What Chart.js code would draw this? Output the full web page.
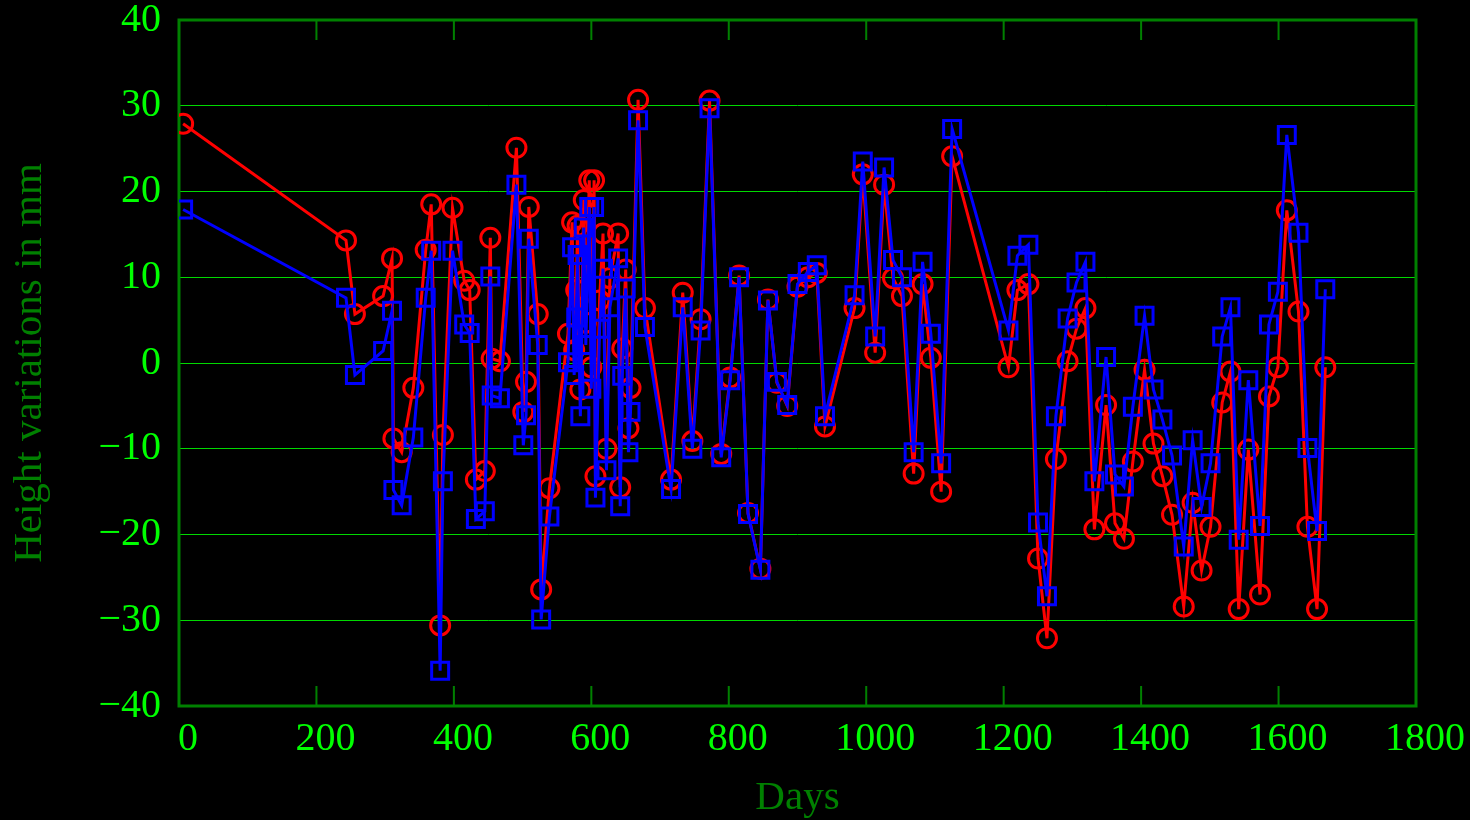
<!DOCTYPE html>
<html>
<head>
<meta charset="utf-8">
<title>Height variations</title>
<script src="https://cdn.jsdelivr.net/npm/chart.js@4.4.1/dist/chart.umd.min.js"></script>
<style>
  html, body { margin: 0; padding: 0; background: #000; }
  #wrap { width: 1470px; height: 820px; }
</style>
</head>
<body>
<div id="wrap"><canvas id="myChart" width="1470" height="820"></canvas></div>
<script>
// days of each measurement (shared by both series)
const days = [
  6, 243, 256, 297, 310, 312, 324, 341, 359, 367,
  380, 384, 398, 415, 423, 432, 445, 453, 455, 467,
  491, 501, 505, 509, 522, 527, 539, 566, 572, 575,
  578, 580, 584, 589, 592, 597, 600, 604, 606, 612,
  617, 622, 627, 639, 642, 645, 650, 654, 657, 668,
  678, 716, 733, 747, 759, 772, 789, 802, 815, 828,
  846, 857, 870, 885, 900, 915, 928, 940, 983, 995,
  1013, 1026, 1039, 1052, 1069, 1082, 1094, 1109, 1125, 1207,
  1220, 1236, 1250, 1263, 1276, 1293, 1306, 1319, 1332, 1349,
  1362, 1375, 1388, 1405, 1418, 1431, 1445, 1462, 1475, 1488,
  1501, 1518, 1530, 1542, 1556, 1573, 1586, 1599, 1612, 1629,
  1642, 1656, 1668
];

// red circles
const seriesA = [
  27.9, 14.3, 5.7, 7.8, 12.2, -8.8, -10.4, -2.9, 13.2, 18.5,
  -30.6, -8.4, 18.1, 9.6, 8.5, -13.6, -12.6, 14.6, 0.5, 0.2,
  25.1, -5.7, -2.2, 18.2, 5.7, -26.4, -14.6, 3.4, 16.4, 1.5,
  8.5, 16.0, -3.1, 19.0, 4.7, 21.3, -0.5, 21.3, -13.2, 7.3,
  15.1, -10.0, 9.9, 15.1, -14.5, 1.7, 10.9, -7.6, -2.9, 30.7,
  6.4, -13.6, 8.2, -9.1, 5.1, 30.6, -10.6, -1.7, 10.2, -17.5,
  -24.0, 7.4, -2.3, -5.0, 8.9, 10.0, 10.5, -7.4, 6.4, 22.0,
  1.2, 20.8, 9.9, 7.8, -12.9, 9.2, 0.6, -15.0, 24.1, -0.5,
  8.5, 9.2, -22.8, -32.1, -11.2, 0.2, 4.0, 6.4, -19.4, -4.9,
  -18.7, -20.5, -11.5, -0.8, -9.4, -13.2, -17.7, -28.4, -16.3, -24.2,
  -19.1, -4.6, -1.0, -28.7, -10.1, -27.0, -3.9, -0.5, 17.8, 6.0,
  -19.1, -28.7, -0.5
];

// blue squares
const seriesB = [
  17.9, 7.6, -1.4, 1.4, 6.1, -14.8, -16.6, -8.7, 7.6, 13.1,
  -35.9, -13.8, 13.1, 4.5, 3.5, -18.2, -17.3, 10.1, -3.8, -4.1,
  20.8, -9.6, -6.1, 14.5, 2.1, -29.9, -17.9, 0.1, 13.5, -1.4,
  5.3, 12.6, -6.2, 15.8, 2.1, 18.2, -3.0, 18.2, -15.7, 4.0,
  11.0, -12.5, 6.5, 12.2, -16.7, -1.5, 8.7, -10.4, -5.7, 28.3,
  4.2, -14.7, 6.5, -10.0, 3.8, 29.7, -11.0, -2.0, 10.0, -17.6,
  -24.1, 7.3, -2.2, -4.9, 9.2, 10.6, 11.4, -6.2, 7.9, 23.5,
  3.1, 22.8, 12.0, 10.0, -10.4, 11.8, 3.4, -11.7, 27.3, 3.8,
  12.5, 13.8, -18.6, -27.2, -6.2, 5.2, 9.4, 11.8, -13.8, 0.7,
  -13.0, -14.4, -5.1, 5.5, -3.1, -6.6, -10.8, -21.4, -9.0, -16.8,
  -11.7, 3.1, 6.5, -20.6, -2.0, -19.0, 4.5, 8.3, 26.6, 15.2,
  -9.9, -19.6, 8.6
];

const xTicks = [0, 200, 400, 600, 800, 1000, 1200, 1400, 1600, 1800];
const yTicks = [-40, -30, -20, -10, 0, 10, 20, 30, 40];

const green = '#00ff00';
const darkGreen = '#008000';
const serif = '"Liberation Serif", "DejaVu Serif", serif';

// frame round the plot and inward ticks at top and bottom
const framePlugin = {
  id: 'frame',
  beforeDatasetsDraw(chart) {
    const { ctx, chartArea: a, scales } = chart;
    ctx.save();
    ctx.strokeStyle = darkGreen;
    ctx.lineWidth = 2;
    xTicks.forEach(t => {
      const px = scales.x.getPixelForValue(t);
      ctx.beginPath();
      ctx.moveTo(px, a.bottom);
      ctx.lineTo(px, a.bottom - 20);
      ctx.moveTo(px, a.top);
      ctx.lineTo(px, a.top + 20);
      ctx.stroke();
    });
    ctx.lineWidth = 3;
    ctx.strokeRect(a.left, a.top, a.right - a.left, a.bottom - a.top);
    ctx.restore();
  }
};

const toPoints = vals => days.map((d, i) => ({ x: d, y: vals[i] }));

new Chart(document.getElementById('myChart').getContext('2d'), {
  type: 'line',
  data: {
    datasets: [
      {
        label: 'A',
        data: toPoints(seriesA),
        borderColor: '#ff0000',
        borderWidth: 3,
        pointStyle: 'circle',
        pointRadius: 9.5,
        pointBorderWidth: 3,
        pointBorderColor: '#ff0000',
        pointBackgroundColor: 'rgba(0,0,0,0)',
        tension: 0,
        order: 1
      },
      {
        label: 'B',
        data: toPoints(seriesB),
        borderColor: '#0000ff',
        borderWidth: 3,
        pointStyle: 'rect',
        pointRadius: 12,
        pointBorderWidth: 3,
        pointBorderColor: '#0000ff',
        pointBackgroundColor: 'rgba(0,0,0,0)',
        tension: 0,
        order: 0
      }
    ]
  },
  options: {
    responsive: false,
    animation: false,
    layout: { padding: { top: 20, right: 54, left: 0, bottom: 0 } },
    plugins: { legend: { display: false }, tooltip: { enabled: false } },
    scales: {
      x: {
        type: 'linear',
        min: 0,
        max: 1800,
        afterBuildTicks: s => { s.ticks = xTicks.map(v => ({ value: v })); },
        afterFit: s => { s.height = 114; },
        grid: { display: false },
        border: { display: false },
        ticks: {
          color: green,
          font: { family: serif, size: 40 },
          padding: 1,
          labelOffset: 9,
          maxRotation: 0,
          callback: v => String(v)
        },
        title: {
          display: true,
          text: 'Days',
          color: darkGreen,
          font: { family: serif, size: 41, lineHeight: 1.05 },
          padding: { top: 0, bottom: 0 }
        }
      },
      y: {
        min: -40,
        max: 40,
        afterBuildTicks: s => { s.ticks = yTicks.map(v => ({ value: v })); },
        afterFit: s => { s.width = 179; s.paddingTop = 0; s.paddingBottom = 0; },
        grid: { color: '#00d800', lineWidth: 1, drawTicks: false },
        border: { display: false },
        ticks: {
          color: green,
          font: { family: serif, size: 40 },
          padding: 18,
          callback: v => (v < 0 ? '\u2212' + Math.abs(v) : String(v))
        },
        title: {
          display: true,
          text: 'Height variations in mm',
          color: darkGreen,
          font: { family: serif, size: 41 },
          padding: { top: 6, bottom: 0 }
        }
      }
    }
  },
  plugins: [framePlugin]
});
</script>
</body>
</html>
